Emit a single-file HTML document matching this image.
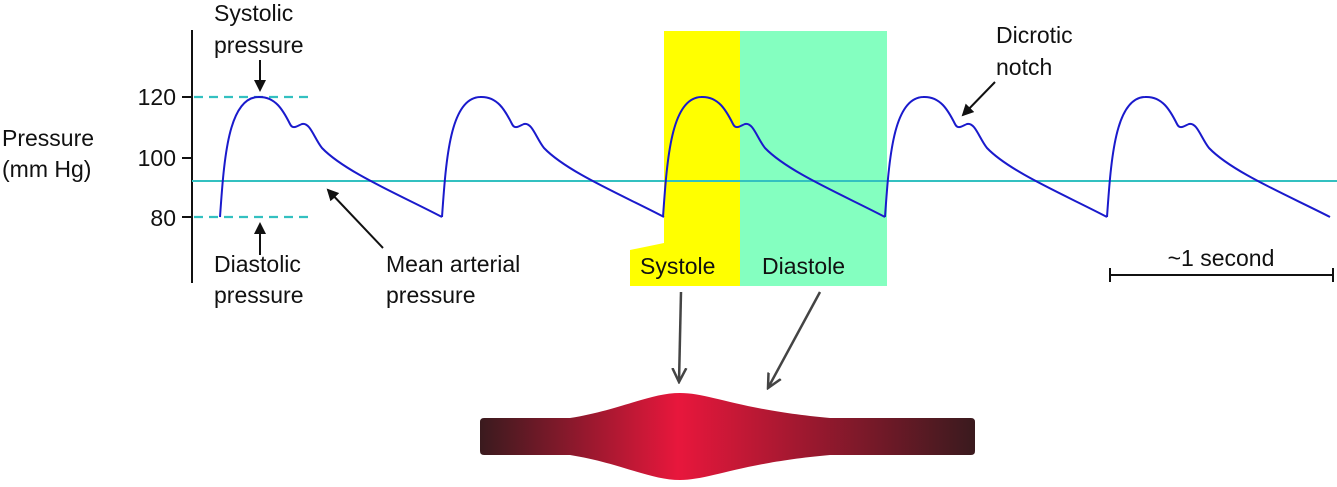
<!DOCTYPE html>
<html><head><style>
body{margin:0;width:1337px;height:482px;background:#fff;overflow:hidden}
</style></head><body>
<svg width="1337" height="482" xmlns="http://www.w3.org/2000/svg" font-family="Liberation Sans, Arial, sans-serif" font-size="23" fill="#111">
<defs>
<linearGradient id="g" x1="0" x2="1" y1="0" y2="0">
<stop offset="0" stop-color="#3a1a1e"/><stop offset="0.4" stop-color="#e8173c"/><stop offset="1" stop-color="#3a1a1e"/>
</linearGradient>
<marker id="a" markerWidth="12" markerHeight="12" refX="10" refY="6" orient="auto" markerUnits="userSpaceOnUse"><path d="M0,0 L12,6 L0,12 z" fill="#111"/></marker>
<marker id="o" markerWidth="16" markerHeight="16" refX="14" refY="8" orient="auto" markerUnits="userSpaceOnUse"><path d="M0,1 L14,8 L0,15" fill="none" stroke="#444" stroke-width="2.5"/></marker>
</defs>
<polygon points="664,31 740,31 740,286 630,286 630,250 664,243" fill="#ffff00"/>
<rect x="740" y="31" width="147" height="255" fill="#84ffc0"/>
<line x1="192" y1="30" x2="192" y2="283" stroke="#111" stroke-width="2"/>
<g stroke="#111" stroke-width="2"><line x1="182" y1="97" x2="192" y2="97"/><line x1="182" y1="158" x2="192" y2="158"/><line x1="182" y1="217" x2="192" y2="217"/></g>
<g text-anchor="end"><text x="176" y="105">120</text><text x="176" y="166">100</text><text x="176" y="226">80</text></g>
<text x="2" y="146">Pressure</text><text x="2" y="177">(mm Hg)</text>
<g stroke="#33c0c0" stroke-width="2.2" stroke-dasharray="9,6"><line x1="194" y1="97" x2="314" y2="97"/><line x1="194" y1="217" x2="314" y2="217"/></g>
<line x1="192" y1="181" x2="1337" y2="181" stroke="#33c0c0" stroke-width="2"/>
<g fill="none" stroke="#1a1acc" stroke-width="2">
<path id="c" d="M220,217 C224,160 228,98 258,97 C275,96 283,110 290,124 C293,130 297,126 302,124 C310,122 314,138 322,148 C345,172 400,195 442,217"/>
<use href="#c" x="222"/><use href="#c" x="443"/><use href="#c" x="665"/>
<path d="M1107,217 C1111,160 1115,98 1145,97 C1162,96 1170,110 1177,124 C1180,130 1184,126 1189,124 C1197,122 1201,138 1209,148 C1232,172 1287,195 1330,217"/>
</g>
<text x="214" y="21">Systolic</text><text x="214" y="53">pressure</text>
<line x1="260" y1="60" x2="260" y2="90" stroke="#111" stroke-width="2" marker-end="url(#a)"/>
<line x1="260" y1="255" x2="260" y2="224" stroke="#111" stroke-width="2" marker-end="url(#a)"/>
<text x="214" y="272">Diastolic</text><text x="214" y="303">pressure</text>
<line x1="383" y1="248" x2="328" y2="190" stroke="#111" stroke-width="2" marker-end="url(#a)"/>
<text x="386" y="272">Mean arterial</text><text x="386" y="303">pressure</text>
<text x="996" y="43">Dicrotic</text><text x="996" y="75">notch</text>
<line x1="995" y1="82" x2="963" y2="115" stroke="#111" stroke-width="2" marker-end="url(#a)"/>
<text x="640" y="274">Systole</text><text x="762" y="274">Diastole</text>
<line x1="681" y1="292" x2="679" y2="382" stroke="#444" stroke-width="2.5" marker-end="url(#o)"/>
<line x1="820" y1="292" x2="768" y2="388" stroke="#444" stroke-width="2.5" marker-end="url(#o)"/>
<g stroke="#111" stroke-width="2"><line x1="1110" y1="275" x2="1333" y2="275"/><line x1="1110" y1="268" x2="1110" y2="282"/><line x1="1333" y1="268" x2="1333" y2="282"/></g>
<text x="1221" y="266" text-anchor="middle">~1 second</text>
<path d="M484,418 L570,418 C620,410 650,393 680,393 C710,393 740,410 830,418 L971,418 Q975,418 975,422 L975,451 Q975,455 971,455 L830,455 C740,463 710,480 680,480 C650,480 620,463 570,455 L484,455 Q480,455 480,451 L480,422 Q480,418 484,418 Z" fill="url(#g)"/>
</svg>
</body></html>
